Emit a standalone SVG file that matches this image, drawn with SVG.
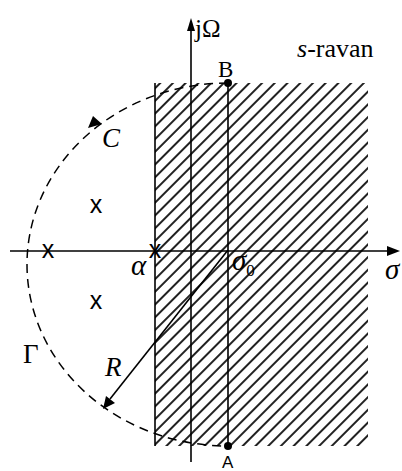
<svg xmlns="http://www.w3.org/2000/svg" width="402" height="471" viewBox="0 0 402 471">
<defs>
<style>
.ln{stroke:#000;stroke-width:1.6;fill:none}
.dash{stroke:#000;stroke-width:1.5;fill:none;stroke-dasharray:9 6}
</style>
<pattern id="hatch" patternUnits="userSpaceOnUse" width="9" height="9" patternTransform="rotate(45)">
<rect x="0" y="0" width="2" height="9" fill="#222"/>
</pattern>
</defs>
<rect width="402" height="471" fill="#fff"/>
<g id="region">
<rect x="155" y="83" width="213" height="363" fill="url(#hatch)"/>
<line class="ln" x1="155" y1="83" x2="155" y2="446"/>
</g>
<g id="connectors">
<line class="ln" x1="10" y1="251" x2="390" y2="251"/>
<polygon points="400,251 387,246 387,256" fill="#000"/>
<line class="ln" x1="191" y1="28" x2="191" y2="462"/>
<polygon points="191,18 187,31 195,31" fill="#000"/>
<line class="ln" x1="228" y1="83" x2="228" y2="446"/>
<path class="dash" d="M228,83 A201,181.5 0 0 0 228,446"/>
<polygon points="88,128 93,116 102,124" fill="#000"/>
<line class="ln" x1="228" y1="250" x2="110" y2="399"/>
<polygon points="103,409 106,396 115,403" fill="#000"/>
</g>
<g id="point-B">
<circle cx="228" cy="83" r="4" fill="#000"/>
<text x="218" y="77" font-family="Liberation Serif, Times New Roman, serif" font-size="23">B</text>
</g>
<g id="point-A">
<circle cx="228" cy="446" r="4" fill="#000"/>
<text x="222" y="468" font-family="Liberation Sans, Arial, sans-serif" font-size="17">A</text>
</g>
<g id="poles" font-family="Liberation Sans, Arial, sans-serif" font-size="25" text-anchor="middle">
<text x="96" y="213">x</text>
<text x="48" y="257.5">x</text>
<text x="155" y="257.5">x</text>
<text x="96" y="309">x</text>
</g>
<g id="labels" font-family="Liberation Serif, Times New Roman, serif">
<text x="195" y="37" font-size="25">jΩ</text>
<text x="297" y="57" font-size="26"><tspan font-style="italic">s</tspan>-ravan</text>
<text x="102" y="147" font-size="27" font-style="italic">C</text>
<text x="131" y="275" font-size="29" font-style="italic">α</text>
<text x="232" y="270" font-size="29"><tspan font-style="italic">σ</tspan><tspan font-size="17" dy="6">0</tspan></text>
<text x="385" y="279" font-size="29" font-style="italic">σ</text>
<text x="23" y="363" font-size="27">Γ</text>
<text x="105" y="376" font-size="27" font-style="italic">R</text>
</g>
</svg>
